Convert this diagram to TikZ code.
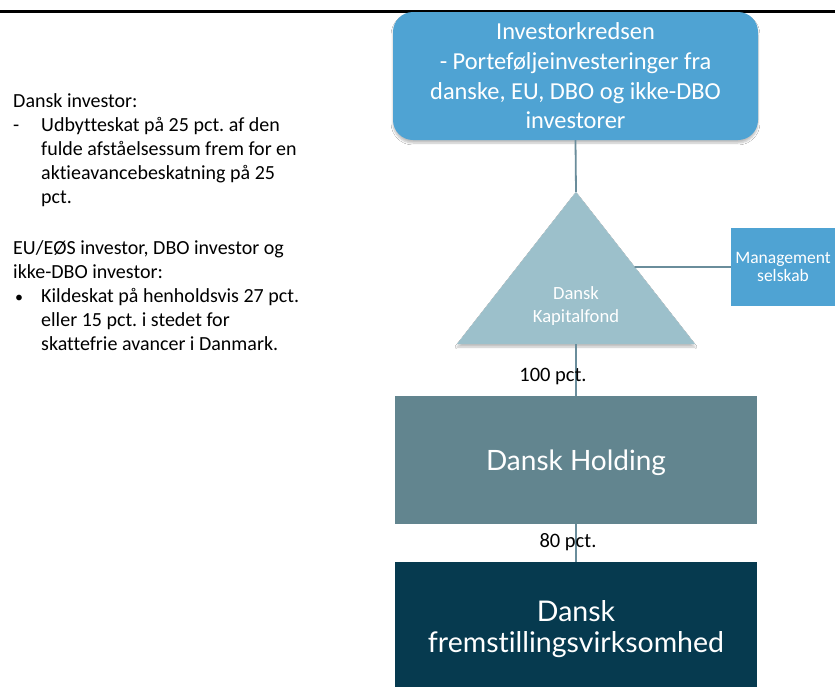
\documentclass[tikz,border=0pt]{standalone}
\usepackage{fontspec}
\setmainfont{Carlito}[Ligatures=NoCommon]
\newfontfamily\latofont{Lato}[Ligatures=NoCommon]
\usetikzlibrary{calc,shadows.blur}
\definecolor{invblue}{HTML}{4FA3D3}
\definecolor{trifill}{HTML}{9CC0CB}
\definecolor{holdfill}{HTML}{62858F}
\definecolor{prodfill}{HTML}{063A4F}
\definecolor{linkcol}{HTML}{6A8D9B}
\tikzset{
  link/.style={draw=linkcol, line width=1.8pt},
  softshadow/.style={blur shadow={shadow blur steps=6, shadow xshift=0pt, shadow yshift=-3pt, shadow opacity=25}},
  bigbox/.style={minimum width=362, minimum height=128, inner sep=0, text=white, align=center},
  pctlabel/.style={font=\fontsize{20.5}{24}\selectfont, inner sep=0, text=black}
}
\frenchspacing
\begin{document}
\begin{tikzpicture}[x=1pt,y=-1pt]
\useasboundingbox (0,0) rectangle (835,686);
\clip (0,0) rectangle (835,686);
\fill[white] (0,0) rectangle (835,686);
% title rule
\draw[line width=3pt] (0,11.5) -- (835,11.5);

% left text
\node[anchor=north west, inner sep=0, align=left] (lefttext) at (13,90) {%
\fontsize{20}{24}\selectfont\frenchspacing
\begin{tabular}{@{}p{28pt}@{}l@{}}
\multicolumn{2}{@{}l@{}}{Dansk investor:}\\
-&Udbytteskat på 25 pct. af den\\
&fulde afståelsessum frem for en\\
&aktieavancebeskatning på 25\\
&pct.\\
\multicolumn{2}{@{}l@{}}{}\\[3pt]
\multicolumn{2}{@{}l@{}}{EU/EØS investor, DBO investor og}\\
\multicolumn{2}{@{}l@{}}{ikke-DBO investor:}\\
\hspace*{2pt}{\fontsize{16}{24}\selectfont•}&Kildeskat på henholdsvis 27 pct.\\
&eller 15 pct. i stedet for\\
&skattefrie avancer i Danmark.
\end{tabular}};

% investor box
\node[fill=invblue, rounded corners=20pt, minimum width=365, minimum height=128, inner sep=0,
      text=white, align=center, softshadow,
      font=\fontsize{24.4}{29.7}\selectfont] (inv) at (575.5,76)
  {Investorkredsen\\- Porteføljeinvesteringer fra\\danske, EU, DBO og ikke-DBO\\investorer};

% triangle (Dansk Kapitalfond)
\coordinate (apex) at (576,192);
\coordinate (bl) at (457,344);
\coordinate (br) at (695,344);
\coordinate (tribase) at (576,344);
\fill[trifill, softshadow] (apex) -- (br) -- (bl) -- cycle;
\node[text=white, align=center, inner sep=0, font=\fontsize{18.6}{23}\selectfont] (kf) at (576,306.5)
  {Dansk\\Kapitalfond};
\coordinate (triright) at ($(apex)!0.4934!(br)$);

% management
\node[fill=invblue, minimum width=104, minimum height=78, inner sep=0, text=white, align=center,
      font=\fontsize{17.5}{18}\selectfont] (mgmt) at (783,267) {Management\\selskab};

% holding
\node[bigbox, fill=holdfill] (hold) at (576,460) {};
\node[text=white, inner sep=0, font=\latofont\fontsize{28}{30}\selectfont] (holdtxt) at (576,463) {Dansk Holding};

% production company
\node[bigbox, fill=prodfill] (prod) at (576,626) {};
\node[text=white, inner sep=0, align=center, font=\latofont\fontsize{28.5}{31}\selectfont] (prodtxt) at (576,629)
  {Dansk\\fremstillingsvirksomhed};

% connectors
\draw[link] (inv.south) -- (apex);
\draw[link] (triright) -- (mgmt.west);
\draw[link] (tribase) -- (hold.north);
\draw[link] (hold.south) -- (prod.north);

% labels
\node[pctlabel] (p100) at (553,376) {100 pct.};
\node[pctlabel] (p80) at (568,542) {80 pct.};
\end{tikzpicture}
\end{document}
